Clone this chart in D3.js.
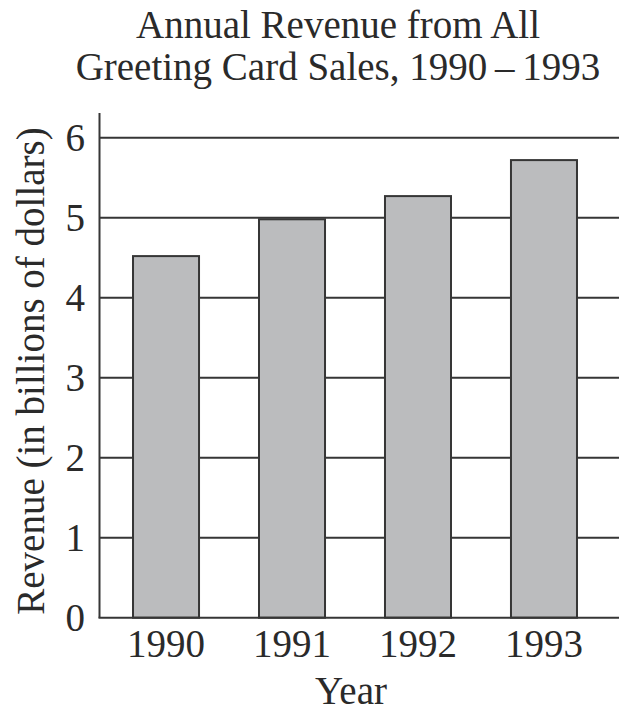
<!DOCTYPE html>
<html><head><meta charset="utf-8">
<script src="https://cdn.jsdelivr.net/npm/d3@7"></script>
<style>
html,body{margin:0;padding:0;background:#fff;}
svg{display:block;}
text{font-family:"Liberation Serif","Times New Roman",serif;fill:#2a2a2a;}
</style></head>
<body>
<script>
const years = ["1990", "1991", "1992", "1993"];
const revenue = [4.52, 4.98, 5.27, 5.72];
const yTicks = [0, 1, 2, 3, 4, 5, 6];
const titleLines = ["Annual Revenue from All", "Greeting Card Sales, 1990\u2009\u2013\u20091993"];
const yLabel = "Revenue (in billions of dollars)";
const xLabel = "Year";

const W = 619, H = 713;
const svg = d3.select("body").append("svg").attr("width", W).attr("height", H);

const x0 = 99.5, xEnd = 619;
const y = d3.scaleLinear().domain([0, 6]).range([617.7, 137.7]);
const x = d3.scaleBand().domain(years).range([100, 610]).paddingInner(0.476).paddingOuter(0.262);

const ink = "#363636";
const fs = "39px";

// gridlines
svg.append("g").selectAll("line").data(yTicks.filter(d => d > 0)).join("line")
  .attr("x1", x0).attr("x2", xEnd)
  .attr("y1", d => y(d)).attr("y2", d => y(d))
  .attr("stroke", ink).attr("stroke-width", 2);

// bars
svg.append("g").selectAll("rect").data(revenue).join("rect")
  .attr("x", (d, i) => x(years[i]))
  .attr("width", x.bandwidth())
  .attr("y", d => y(d))
  .attr("height", d => y(0) - y(d))
  .attr("fill", "#bbbcbe")
  .attr("stroke", ink).attr("stroke-width", 2);

// axes lines
svg.append("line").attr("x1", x0).attr("x2", x0).attr("y1", 113).attr("y2", y(0))
  .attr("stroke", ink).attr("stroke-width", 2);
svg.append("line").attr("x1", x0 - 1).attr("x2", xEnd).attr("y1", y(0)).attr("y2", y(0))
  .attr("stroke", ink).attr("stroke-width", 2);

// y tick labels
svg.append("g").selectAll("text").data(yTicks).join("text")
  .attr("x", 85).attr("y", d => y(d))
  .attr("dy", "0.34em")
  .attr("text-anchor", "end")
  .style("font-size", fs)
  .text(d => d);

// x tick labels
svg.append("g").selectAll("text").data(years).join("text")
  .attr("x", d => x(d) + x.bandwidth() / 2).attr("y", 657)
  .attr("text-anchor", "middle")
  .style("font-size", fs)
  .text(d => d);

// x label
svg.append("text").attr("x", 351).attr("y", 704)
  .attr("text-anchor", "middle").style("font-size", fs).text(xLabel);

// y label
svg.append("text").attr("transform", "translate(44,371) rotate(-90)")
  .attr("text-anchor", "middle").style("font-size", fs).text(yLabel);

// title
svg.append("g").selectAll("text").data(titleLines).join("text")
  .attr("x", 338).attr("y", (d, i) => 38 + i * 42)
  .attr("text-anchor", "middle").style("font-size", fs)
  .text(d => d);
</script>
</body></html>
